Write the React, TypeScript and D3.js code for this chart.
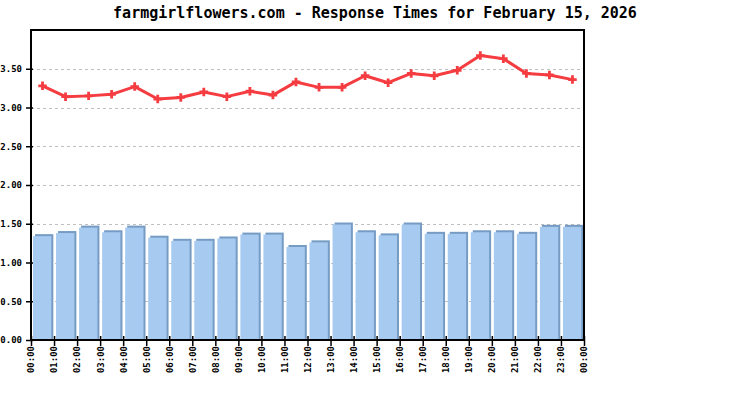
import React, { useEffect, useRef } from 'react';
import * as d3 from 'd3';

const title = 'farmgirlflowers.com - Response Times for February 15, 2026';

const hours = [
  '00:00', '01:00', '02:00', '03:00', '04:00', '05:00', '06:00', '07:00',
  '08:00', '09:00', '10:00', '11:00', '12:00', '13:00', '14:00', '15:00',
  '16:00', '17:00', '18:00', '19:00', '20:00', '21:00', '22:00', '23:00',
];
const tickLabels = [...hours, '00:00'];

// bars (lower series) and line (upper series), seconds
const barValues = [
  1.34, 1.38, 1.45, 1.39, 1.45, 1.32, 1.28, 1.28, 1.31, 1.36, 1.36, 1.20,
  1.26, 1.49, 1.39, 1.35, 1.49, 1.37, 1.37, 1.39, 1.39, 1.37, 1.46, 1.46,
];
const lineValues = [
  3.28, 3.14, 3.15, 3.17, 3.27, 3.11, 3.13, 3.20, 3.14, 3.21, 3.16, 3.33,
  3.26, 3.26, 3.41, 3.32, 3.44, 3.41, 3.48, 3.67, 3.63, 3.44, 3.42, 3.36,
];
const yTicks = [0, 0.5, 1, 1.5, 2, 2.5, 3, 3.5];

const width = 750;
const height = 400;
const font = '"DejaVu Sans Mono", "Liberation Mono", monospace';

function Chart() {
  const root = useRef<HTMLDivElement>(null);

  useEffect(() => {
    const left = 31;
    const right = 584;
    const top = 30;
    const bottom = 340;

    const x = d3.scaleLinear().domain([0, hours.length]).range([left, right]);
    const y = d3.scaleLinear().domain([0, 4]).range([bottom, top]);

    const svg = d3
      .create('svg')
      .attr('viewBox', `0 0 ${width} ${height}`)
      .attr('width', width)
      .attr('height', height)
      .style('position', 'absolute')
      .style('left', '0px')
      .style('top', '0px')
      .style('background', '#fff');

    svg
      .append('text')
      .attr('x', 375)
      .attr('y', 18)
      .attr('text-anchor', 'middle')
      .attr('font-family', font)
      .attr('font-weight', 'bold')
      .attr('font-size', 15)
      .attr('fill', '#000')
      .text(title);

    // dashed grid
    svg
      .append('g')
      .selectAll('line')
      .data(yTicks.filter(d => d > 0))
      .join('line')
      .attr('x1', left)
      .attr('x2', right)
      .attr('y1', d => Math.round(y(d)) + 0.5)
      .attr('y2', d => Math.round(y(d)) + 0.5)
      .attr('stroke', '#c0c0c0')
      .attr('stroke-dasharray', '3,3');

    // bars with a small extruded shadow
    const bars = svg.append('g');
    const barW = (x(1) - x(0)) - 4.7;
    bars
      .selectAll('rect.shadow')
      .data(barValues)
      .join('rect')
      .attr('class', 'shadow')
      .attr('x', (_, i) => x(i) + 4)
      .attr('y', d => y(d) - 2)
      .attr('width', barW)
      .attr('height', d => bottom - y(d) + 2)
      .attr('fill', '#769cc4');
    bars
      .selectAll('rect.face')
      .data(barValues)
      .join('rect')
      .attr('class', 'face')
      .attr('x', (_, i) => x(i) + 2)
      .attr('y', d => y(d))
      .attr('width', barW)
      .attr('height', d => bottom - y(d))
      .attr('fill', '#a6caf0');

    const line = d3
      .line<number>()
      .x((_, i) => x(i + 0.5))
      .y(d => y(d));

    svg
      .append('path')
      .datum(lineValues)
      .attr('fill', 'none')
      .attr('stroke', '#f43c41')
      .attr('stroke-width', 3)
      .attr('stroke-linejoin', 'round')
      .attr('d', line);

    svg
      .append('g')
      .selectAll('path')
      .data(lineValues)
      .join('path')
      .attr('transform', (d, i) => `translate(${x(i + 0.5)},${y(d)})`)
      .attr('d', d3.symbol(d3.symbolCross, 40)())
      .attr('fill', '#f43c41');

    // frame
    svg
      .append('rect')
      .attr('x', left)
      .attr('y', top)
      .attr('width', right - left)
      .attr('height', bottom - top)
      .attr('fill', 'none')
      .attr('stroke', '#000')
      .attr('stroke-width', 2);

    const yAxis = (g: any) => g
      .attr('transform', `translate(${left},0)`)
      .call(d3.axisLeft(y).tickValues(yTicks).tickFormat(d3.format('.2f')).tickSize(5).tickPadding(4))
      .call((g: any) => g.select('.domain').remove())
      .call((g: any) => g.selectAll('line').attr('x2', -5).attr('x1', 2).attr('stroke', '#000').attr('stroke-width', 1.5));

    const xAxis = (g: any) => g
      .attr('transform', `translate(0,${bottom})`)
      .call(d3.axisBottom(x).tickValues(d3.range(tickLabels.length)).tickFormat((i: any) => tickLabels[i]).tickSize(6))
      .call((g: any) => g.select('.domain').remove())
      .call((g: any) => g.selectAll('line').attr('y1', -4).attr('y2', 6).attr('stroke', '#000').attr('stroke-width', 1.5))
      .call((g: any) => g.selectAll('text')
        .attr('transform', 'rotate(-90)')
        .attr('text-anchor', 'end')
        .attr('x', -6)
        .attr('y', 0)
        .attr('dy', '0.32em'));

    svg.append('g').call(yAxis);
    svg.append('g').call(xAxis);

    svg
      .selectAll('.tick text')
      .attr('font-family', font)
      .attr('font-weight', 'bold')
      .attr('font-size', 9)
      .attr('fill', '#000');

    const rootNode = root.current;
    rootNode?.appendChild(svg.node() as Node);

    return () => {
      if (rootNode && rootNode.firstChild) {
        rootNode.removeChild(rootNode.firstChild);
      }
    };
  }, []);

  return <div ref={root} />;
}

export default function App() {
  return <Chart />;
}
